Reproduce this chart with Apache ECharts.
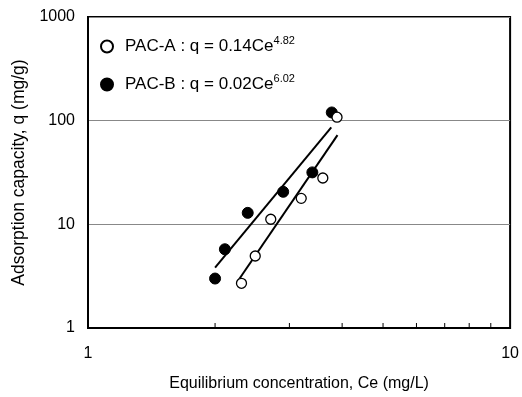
<!DOCTYPE html>
<html>
<head>
<meta charset="utf-8">
<script src="https://cdn.jsdelivr.net/npm/echarts@6/dist/echarts.min.js"></script>
<style>html,body{margin:0;padding:0;background:#fff}#c{width:522px;height:397px}</style>
</head>
<body>
<div id="c"></div>
<script>
// Data (Ce in mg/L, q in mg/g)
const pacA = [[2.31, 2.7], [2.49, 4.95], [2.71, 11.2], [3.20, 17.8], [3.60, 28], [3.89, 108]];
const pacB = [[2.00, 3.0], [2.11, 5.75], [2.39, 12.9], [2.90, 20.6], [3.40, 31.7], [3.78, 120]];
const fitA = [[2.28, 2.95], [3.90, 72.6]];
const fitB = [[2.00, 3.82], [3.77, 86]];
const minorTicks = [2, 3, 4, 5, 6, 7, 8, 9];
const nameA = 'PAC-A';
const nameB = 'PAC-B';
const labelA = ['PAC-A : q = 0.14Ce', '4.82'];
const labelB = ['PAC-B : q = 0.02Ce', '6.02'];

const FONT = "'Liberation Sans', Arial, sans-serif";
const chart = echarts.init(document.getElementById('c'), null, {renderer: 'canvas'});
chart.setOption({
  animation: false,
  backgroundColor: '#fff',
  textStyle: {fontFamily: FONT, color: '#000'},
  grid: {left: 88, right: 10, top: 17, bottom: 69, show: true, borderColor: '#000', borderWidth: 2, backgroundColor: 'transparent'},
  legend: {
    orient: 'vertical', left: 95, top: 30, itemWidth: 12, itemHeight: 12, itemGap: 18,
    data: [nameA, nameB],
    formatter: n => {
      const l = n === nameA ? labelA : labelB;
      return '{t|' + l[0] + '}{s|' + l[1] + '}';
    },
    textStyle: {
      fontFamily: FONT, color: '#000',
      rich: {
        t: {fontSize: 17, fontFamily: FONT, color: '#000', padding: [0, 0, 0, 7]},
        s: {fontSize: 11, fontFamily: FONT, color: '#000', padding: [0, 0, 12, 0]}
      }
    }
  },
  xAxis: {
    type: 'log', logBase: 10, min: 1, max: 10,
    axisLine: {lineStyle: {color: '#000', width: 2}},
    axisTick: {show: false},
    splitLine: {show: false},
    minorTick: {show: false},
    axisLabel: {fontSize: 16, color: '#000', fontFamily: FONT, margin: 18, formatter: v => String(v)},
    name: 'Equilibrium concentration, Ce (mg/L)', nameLocation: 'middle', nameGap: 48,
    nameTextStyle: {fontSize: 16, color: '#000', fontFamily: FONT}
  },
  yAxis: {
    type: 'log', logBase: 10, min: 1, max: 1000,
    axisLine: {lineStyle: {color: '#000', width: 2}},
    axisTick: {show: false},
    splitLine: {show: true, lineStyle: {color: '#888', width: 1}},
    axisLabel: {fontSize: 16, color: '#000', fontFamily: FONT, margin: 13, formatter: v => String(v)},
    name: 'Adsorption capacity, q (mg/g)', nameLocation: 'middle', nameGap: 60,
    nameTextStyle: {fontSize: 17.5, color: '#000', fontFamily: FONT}
  },
  series: [
    {name: 'fitB', type: 'line', data: fitB, symbol: 'none', lineStyle: {color: '#000', width: 2}, z: 2},
    {name: 'fitA', type: 'line', data: fitA, symbol: 'none', lineStyle: {color: '#000', width: 2}, z: 2},
    {name: nameB, type: 'scatter', data: pacB, symbol: 'circle', symbolSize: 11,
     itemStyle: {color: '#000', borderColor: '#000', borderWidth: 1, opacity: 1}, z: 3},
    {name: nameA, type: 'scatter', data: pacA, symbol: 'circle', symbolSize: 10,
     itemStyle: {color: '#fff', borderColor: '#000', borderWidth: 1.3, opacity: 1}, z: 4},
    {name: 'ticks', type: 'custom', data: minorTicks.map(v => [v, 1]), silent: true, z: 5,
     renderItem: (params, api) => {
       const p = api.coord([api.value(0), api.value(1)]);
       return {type: 'line', shape: {x1: p[0], y1: p[1], x2: p[0], y2: p[1] - 5},
               style: {stroke: '#000', lineWidth: 1}};
     }}
  ]
});
</script>
</body>
</html>
